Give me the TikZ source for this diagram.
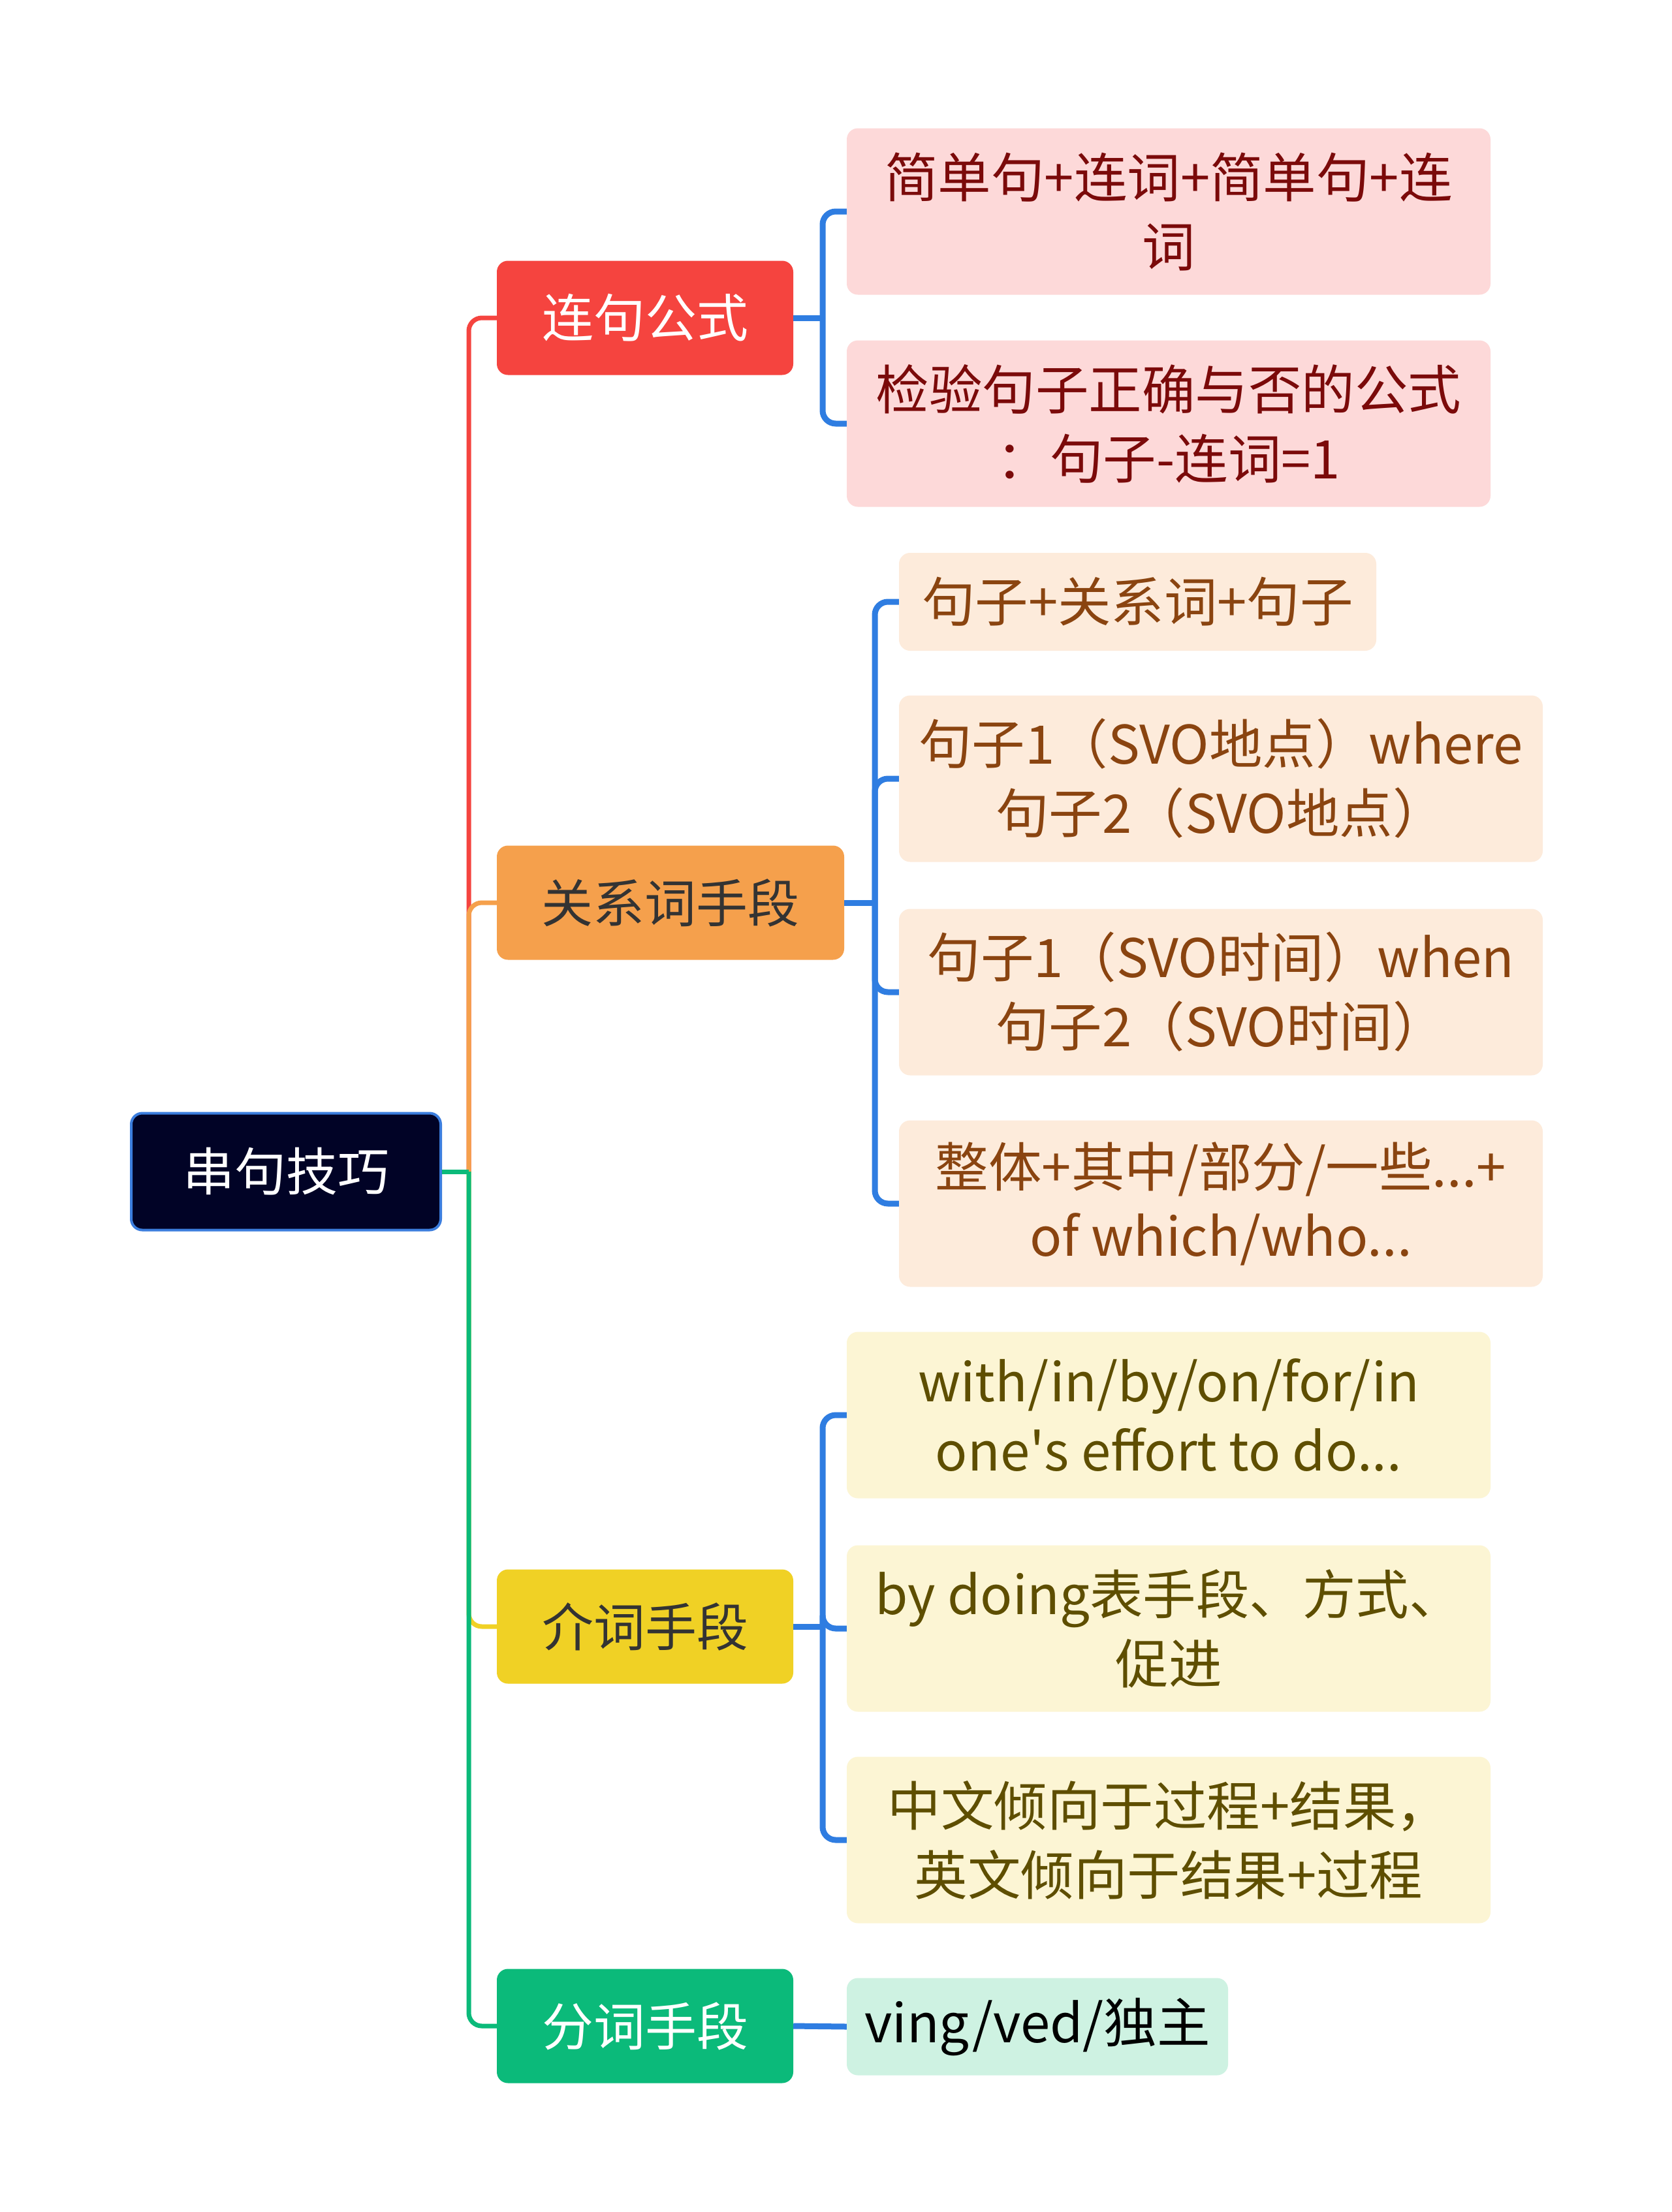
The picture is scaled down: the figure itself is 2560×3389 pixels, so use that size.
\documentclass[tikz,border=0pt]{standalone}
\usepackage{fontspec}
\setmainfont{Noto Sans CJK SC}
\definecolor{rootfill}{HTML}{010326}
\definecolor{rootborder}{HTML}{3B7DDD}
\definecolor{cred}{HTML}{F5443F}
\definecolor{corange}{HTML}{F5A04C}
\definecolor{cyellow}{HTML}{F0D125}
\definecolor{cgreen}{HTML}{0BBA7A}
\definecolor{cblue}{HTML}{2F7DE1}
\definecolor{lred}{HTML}{FDD9D9}
\definecolor{lorange}{HTML}{FDEBDB}
\definecolor{lyellow}{HTML}{FCF5D4}
\definecolor{lgreen}{HTML}{CEF2E2}
\definecolor{tred}{HTML}{7B0A0A}
\definecolor{torange}{HTML}{8A4410}
\definecolor{tyellow}{HTML}{5E4E00}
\definecolor{tdark}{HTML}{333333}
\begin{document}
\begin{tikzpicture}[x=1pt,y=1pt,
  box/.style={rounded corners=17pt, inner sep=0pt, align=center, font=\fontsize{79}{106}\selectfont},
  lone/.style={box, minimum width=454pt, minimum height=175pt},
  leaf/.style={box, minimum width=986pt, minimum height=255pt, font=\fontsize{81.5}{106}\selectfont},
  trunkline/.style={line width=7pt, rounded corners=20pt},
  link/.style={line width=9pt, draw=cblue, rounded corners=20pt}]
\path[fill=white] (0,0) rectangle (2560,-3389);
% root
\node[box, fill=rootfill, draw=rootborder, line width=4pt, text=white,
  minimum width=474pt, minimum height=179pt] (root) at (438,-1795) {串句技巧};
% level 1
\node[lone, fill=cred, text=white] (a) at (988,-487) {连句公式};
\node[lone, fill=corange, text=tdark, minimum width=532pt] (b) at (1027,-1383) {关系词手段};
\node[lone, fill=cyellow, text=tdark] (c) at (988,-2492) {介词手段};
\node[lone, fill=cgreen, text=white] (d) at (988,-3104) {分词手段};
% leaves
\node[leaf, fill=lred, text=tred] (a1) at (1790,-324) {简单句+连词+简单句+连\\词};
\node[leaf, fill=lred, text=tred] (a2) at (1790,-649) {检验句子正确与否的公式\\：句子-连词=1};
\node[leaf, fill=lorange, text=torange, minimum width=731pt, minimum height=150pt] (b1) at (1742.5,-922) {句子+关系词+句子};
\node[leaf, fill=lorange, text=torange] (b2) at (1870,-1193) {句子1（SVO地点）where\\句子2（SVO地点）};
\node[leaf, fill=lorange, text=torange] (b3) at (1870,-1520) {句子1（SVO时间）when\\句子2（SVO时间）};
\node[leaf, fill=lorange, text=torange] (b4) at (1870,-1844) {整体+其中/部分/一些...+\\of which/who...};
\node[leaf, fill=lyellow, text=tyellow] (c1) at (1790,-2168) {with/in/by/on/for/in\\one\textquotesingle s effort to do...};
\node[leaf, fill=lyellow, text=tyellow] (c2) at (1790,-2495) {by doing表手段、方式、\\促进};
\node[leaf, fill=lyellow, text=tyellow] (c3) at (1790,-2819) {中文倾向于过程+结果，\\英文倾向于结果+过程};
\node[leaf, fill=lgreen, text=black, minimum width=584pt, minimum height=149pt] (d1) at (1589,-3105) {ving/ved/独主};
% junction coordinates
\coordinate (t) at (718,-1795);
\coordinate (ba) at (1260,-487);
\coordinate (bb) at (1340,-1383);
\coordinate (bc) at (1260,-2492);
% trunk connectors
\draw[trunkline, draw=cred] (t) |- (a.west);
\draw[trunkline, draw=corange] (t) |- (b.west);
\draw[trunkline, draw=cyellow] (t) |- (c.west);
\draw[trunkline, draw=cgreen] (t) |- (d.west);
\draw[line width=7pt, draw=cgreen] (root.east) -- (t);
% blue connectors
\draw[link] (a.east) -- (ba);
\draw[link] (ba) |- (a1.west);
\draw[link] (ba) |- (a2.west);
\draw[link] (b.east) -- (bb);
\draw[link] (bb) |- (b1.west);
\draw[link] (bb) |- (b2.west);
\draw[link] (bb) |- (b3.west);
\draw[link] (bb) |- (b4.west);
\draw[link] (c.east) -- (bc);
\draw[link] (bc) |- (c1.west);
\draw[link] (bc) |- (c2.west);
\draw[link] (bc) |- (c3.west);
\draw[link] (d.east) -- (d1.west);
\end{tikzpicture}
\end{document}
